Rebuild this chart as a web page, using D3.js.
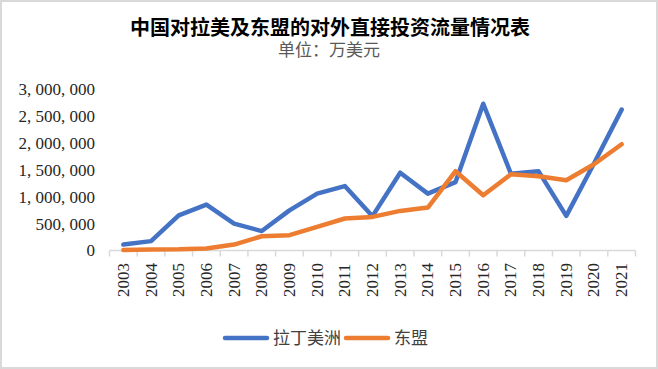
<!DOCTYPE html>
<html>
<head>
<meta charset="utf-8">
<script src="https://cdn.jsdelivr.net/npm/d3@7"></script>
<style>
  body { margin: 0; background: #fff; }
  svg text { font-family: "Liberation Serif", "Noto Sans CJK SC", serif; }
</style>
</head>
<body>
<div id="chart"></div>
<script>
// data (万美元)
var years = ["2003","2004","2005","2006","2007","2008","2009","2010","2011","2012",
             "2013","2014","2015","2016","2017","2018","2019","2020","2021"];
var latam = [110000, 175000, 655000, 855000, 500000, 362000, 748000, 1060000, 1200000, 640000,
             1450000, 1060000, 1275000, 2735000, 1430000, 1475000, 645000, 1620000, 2625000];
var asean = [10000, 20000, 22000, 37000, 110000, 265000, 285000, 440000, 596000, 626000,
             738000, 800000, 1478000, 1030000, 1420000, 1385000, 1310000, 1608000, 1980000];
var yTicks = [0, 500000, 1000000, 1500000, 2000000, 2500000, 3000000];
var seriesNames = ["拉丁美洲", "东盟"];
var colors = ["#4472C4", "#ED7D31"];

var svgWidth = 658;
var svgHeight = 369;

var svg = d3.select("#chart")
  .append("svg")
  .attr("width", svgWidth)
  .attr("height", svgHeight);

// frame
svg.append("rect")
  .attr("x", 1).attr("y", 1)
  .attr("width", svgWidth - 2).attr("height", svgHeight - 2)
  .attr("fill", "#fff")
  .attr("stroke", "#d9d9d9")
  .attr("stroke-width", 2);

// titles
svg.append("text")
  .attr("x", 330).attr("y", 35)
  .attr("text-anchor", "middle")
  .attr("font-size", "20px")
  .attr("font-weight", "bold")
  .attr("fill", "#000")
  .text("中国对拉美及东盟的对外直接投资流量情况表");

svg.append("text")
  .attr("x", 329).attr("y", 56)
  .attr("text-anchor", "middle")
  .attr("font-size", "17px")
  .attr("fill", "#595959")
  .text("单位：万美元");

// scales
var xScale = d3.scaleBand()
  .domain(years)
  .range([109.5, 635.5]);

var yScale = d3.scaleLinear()
  .domain([0, 3000000])
  .range([250.5, 89.5]);

// y labels
var fmt = function(d) { return d3.format(",")(d).replace(/,/g, ", "); };
svg.append("g").selectAll("text")
  .data(yTicks)
  .enter()
  .append("text")
  .attr("x", 95)
  .attr("y", d => yScale(d))
  .attr("dy", "0.35em")
  .attr("text-anchor", "end")
  .attr("font-size", "17px")
  .attr("fill", "#262626")
  .text(fmt);

// x axis line + ticks
var axisG = svg.append("g").attr("stroke", "#d9d9d9").attr("stroke-width", 1.5);
axisG.append("line")
  .attr("x1", xScale.range()[0]).attr("x2", xScale.range()[1])
  .attr("y1", yScale(0)).attr("y2", yScale(0));
var bounds = years.map(d => xScale(d)).concat([xScale.range()[1]]);
axisG.selectAll(".tick")
  .data(bounds)
  .enter()
  .append("line")
  .attr("x1", d => d).attr("x2", d => d)
  .attr("y1", yScale(0)).attr("y2", yScale(0) + 6);

// x labels (rotated)
svg.append("g").selectAll("text")
  .data(years)
  .enter()
  .append("text")
  .attr("transform", d => `translate(${xScale(d) + xScale.bandwidth() / 2 + 5.5}, 297) rotate(-90)`)
  .attr("font-size", "17px")
  .attr("fill", "#262626")
  .text(d => d);

// lines
var line = d3.line()
  .x((d, i) => xScale(years[i]) + xScale.bandwidth() / 2)
  .y(d => yScale(d));

[latam, asean].forEach(function(s, i) {
  svg.append("path")
    .attr("d", line(s))
    .attr("fill", "none")
    .attr("stroke", colors[i])
    .attr("stroke-width", 4.5)
    .attr("stroke-linejoin", "round")
    .attr("stroke-linecap", "round");
});

// legend
var lx = 225;
var legend = svg.append("g");
seriesNames.forEach(function(name, i) {
  legend.append("line")
    .attr("x1", lx).attr("x2", lx + 42)
    .attr("y1", 338).attr("y2", 338)
    .attr("stroke", colors[i])
    .attr("stroke-width", 4.5)
    .attr("stroke-linecap", "round");
  var t = legend.append("text")
    .attr("x", lx + 48).attr("y", 344)
    .attr("font-size", "17px")
    .attr("fill", "#404040")
    .text(name);
  lx = lx + 48 + t.node().getComputedTextLength() + 5;
});
</script>
</body>
</html>
